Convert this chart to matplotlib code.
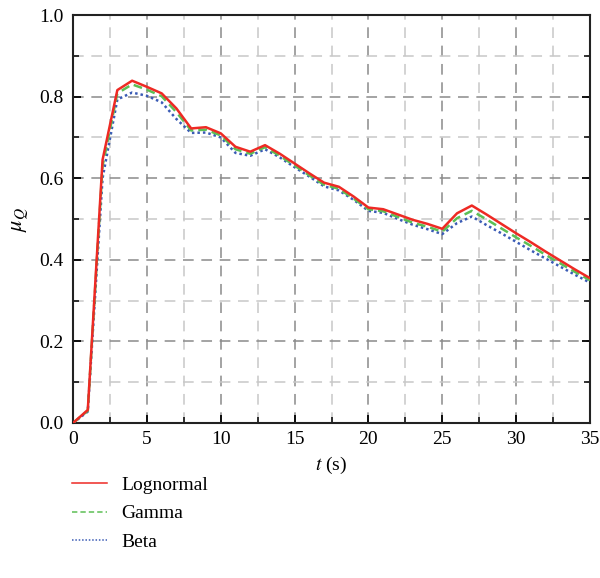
import matplotlib
matplotlib.use("Agg")
import matplotlib.pyplot as plt
from matplotlib.ticker import MultipleLocator, FormatStrFormatter

plt.rcParams["font.family"] = ["Liberation Serif", "DejaVu Serif"]
plt.rcParams["mathtext.fontset"] = "stix"

t = list(range(0, 36))
lognormal = [0.0, 0.032, 0.645, 0.816, 0.839, 0.824, 0.808, 0.771, 0.722, 0.725,
             0.71, 0.677, 0.665, 0.681, 0.66, 0.636, 0.612, 0.589, 0.579, 0.555,
             0.528, 0.524, 0.511, 0.498, 0.488, 0.476, 0.514, 0.533, 0.511, 0.488,
             0.465, 0.443, 0.42, 0.398, 0.376, 0.355]
gamma = [0.0, 0.03, 0.63, 0.808, 0.83, 0.817, 0.801, 0.762, 0.717, 0.719,
         0.705, 0.671, 0.66, 0.676, 0.655, 0.631, 0.607, 0.584, 0.574, 0.55,
         0.524, 0.519, 0.505, 0.491, 0.481, 0.469, 0.502, 0.52, 0.499, 0.477,
         0.455, 0.434, 0.412, 0.391, 0.37, 0.35]
beta = [0.0, 0.028, 0.6, 0.793, 0.81, 0.802, 0.786, 0.745, 0.711, 0.712,
        0.7, 0.662, 0.655, 0.671, 0.651, 0.627, 0.604, 0.58, 0.57, 0.547,
        0.52, 0.515, 0.5, 0.486, 0.475, 0.463, 0.49, 0.506, 0.485, 0.465,
        0.444, 0.423, 0.403, 0.383, 0.363, 0.344]

fig = plt.figure(figsize=(6.0, 5.78), dpi=100)
ax = fig.add_axes([0.1217, 0.2682, 0.8616, 0.7058])

ax.plot(t, lognormal, color="#ee2a24", lw=1.8, ls="-", label="Lognormal", zorder=5)
ax.plot(t, gamma, color="#5cbf55", lw=1.8, ls=(0, (3.5, 2)), label="Gamma", zorder=4)
ax.plot(t, beta, color="#3a5bb5", lw=1.8, ls=(0, (1, 1.2)), label="Beta", zorder=3)

ax.set_xlim(0, 35)
ax.set_ylim(0, 1.0)
ax.xaxis.set_major_locator(MultipleLocator(5))
ax.xaxis.set_minor_locator(MultipleLocator(2.5))
ax.yaxis.set_major_locator(MultipleLocator(0.2))
ax.yaxis.set_minor_locator(MultipleLocator(0.1))
ax.yaxis.set_major_formatter(FormatStrFormatter("%.1f"))

ax.grid(True, which="major", color="#8a8a8a", lw=1.1, ls=(0, (7, 5)))
ax.grid(True, which="minor", color="#c8c8c8", lw=1.1, ls=(0, (7, 5)))
ax.set_axisbelow(True)

ax.tick_params(which="both", direction="in", right=True, top=False, labelsize=14)
ax.tick_params(axis="y", which="major", pad=7)
ax.tick_params(axis="x", which="major", pad=6)
ax.tick_params(which="major", length=6, width=1.3)
ax.tick_params(which="minor", length=4, width=1.1)
for spine in ax.spines.values():
    spine.set_linewidth(1.5)
    spine.set_color("#222222")

ax.set_xlabel(r"$t$ (s)", fontsize=14, labelpad=5)
ax.set_ylabel(r"$\mu_Q$", fontsize=16, labelpad=6)

leg = ax.legend(loc="upper left", bbox_to_anchor=(-0.035, -0.088), frameon=False,
                fontsize=14, handlelength=1.8, labelspacing=0.56, handletextpad=0.7)
for handle in leg.legend_handles:
    handle.set_linewidth(1.1)

fig.savefig("out.png", dpi=100, facecolor="white")
